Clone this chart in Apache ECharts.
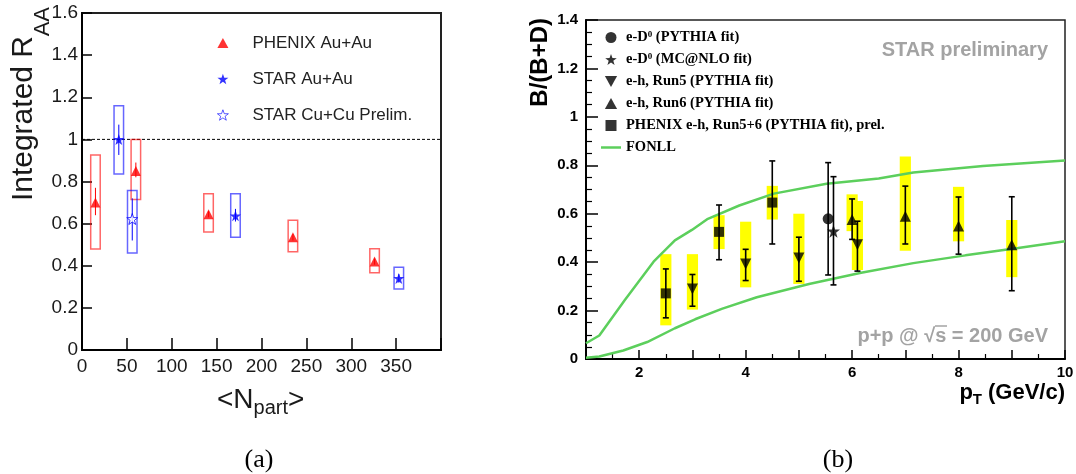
<!DOCTYPE html>
<html>
<head>
<meta charset="utf-8">
<script src="https://cdn.jsdelivr.net/npm/echarts@6/dist/echarts.min.js"></script>
<style>
html, body { margin: 0; padding: 0; background: #fff; }
#chart { width: 1076px; height: 474px; }
</style>
</head>
<body>
<div id="chart"></div>
<script>
// (a) integrated R_AA vs <N_part>
var phenixX = [15, 60, 141, 235, 326];
var phenixY = [0.70, 0.85, 0.645, 0.535, 0.42];
var phenixStatLo = [0.64, 0.82, 0.63, 0.52, 0.405];
var phenixStatHi = [0.77, 0.89, 0.66, 0.55, 0.435];
var phenixSysLo = [0.48, 0.715, 0.56, 0.467, 0.367];
var phenixSysHi = [0.926, 1.0, 0.742, 0.616, 0.481];

var starAuX = [41, 171, 353];
var starAuY = [1.0, 0.637, 0.34];
var starAuStatLo = [0.926, 0.61, 0.32];
var starAuStatHi = [1.07, 0.67, 0.36];
var starAuSysLo = [0.836, 0.535, 0.29];
var starAuSysHi = [1.16, 0.742, 0.393];

var starCuX = [56];
var starCuY = [0.622];
var starCuStatLo = [0.52];
var starCuStatHi = [0.72];
var starCuSysLo = [0.46];
var starCuSysHi = [0.757];

var nPartTicks = [0, 50, 100, 150, 200, 250, 300, 350];

// (b) B/(B+D) vs pT
var phenixEhX = [2.5, 3.5, 4.5];
var phenixEhY = [0.271, 0.525, 0.646];
var phenixEhStatLo = [0.17, 0.41, 0.475];
var phenixEhStatHi = [0.372, 0.636, 0.818];
var phenixEhSysLo = [0.139, 0.454, 0.576];
var phenixEhSysHi = [0.433, 0.594, 0.715];

var run5X = [3, 4, 5, 6.1];
var run5Y = [0.289, 0.392, 0.417, 0.472];
var run5StatLo = [0.218, 0.324, 0.321, 0.363];
var run5StatHi = [0.349, 0.453, 0.503, 0.569];
var run5SysLo = [0.204, 0.296, 0.31, 0.368];
var run5SysHi = [0.433, 0.567, 0.6, 0.653];

var run6X = [6, 7, 8, 9];
var run6Y = [0.576, 0.59, 0.549, 0.472];
var run6StatLo = [0.494, 0.475, 0.433, 0.282];
var run6StatHi = [0.661, 0.714, 0.669, 0.67];
var run6SysLo = [0.528, 0.447, 0.486, 0.338];
var run6SysHi = [0.68, 0.836, 0.711, 0.574];

var eD0PythiaX = [5.55];
var eD0PythiaY = [0.579];
var eD0PythiaLo = [0.347];
var eD0PythiaHi = [0.811];

var eD0McX = [5.65];
var eD0McY = [0.528];
var eD0McLo = [0.306];
var eD0McHi = [0.753];

var fonllUpX = [1, 1.25, 1.73, 2.27, 2.67, 2.99, 3.29, 3.88, 4.53, 5.52, 6.5, 7.15, 8.46, 10];
var fonllUpY = [0.065, 0.097, 0.244, 0.402, 0.49, 0.533, 0.579, 0.634, 0.683, 0.724, 0.745, 0.77, 0.797, 0.82];
var fonllLoX = [1, 1.25, 1.7, 2.15, 2.67, 3.05, 3.55, 4.21, 5.19, 6.17, 7.15, 8.13, 9.12, 10];
var fonllLoY = [0.005, 0.01, 0.035, 0.07, 0.127, 0.164, 0.207, 0.255, 0.31, 0.356, 0.396, 0.428, 0.458, 0.486];

var starPath = 'path://M0,-10L2.35,-3.24L9.51,-3.09L3.8,1.24L5.88,8.09L0,4L-5.88,8.09L-3.8,1.24L-9.51,-3.09L-2.35,-3.24Z';
var downTri = 'path://M0,0L10,0L5,9Z';
var upTri = 'path://M5,0L10,9L0,9Z';
var square = 'path://M0,0H10V10H0Z';
var lineIcon = 'path://M0,0H20V2.5H0Z';
var sans = 'Liberation Sans, Arial, sans-serif';
var serif = 'Liberation Serif, Times New Roman, serif';

function pts(xs, ys) {
  return xs.map(function (x, i) { return [x, ys[i]]; });
}
function ranges(xs, lo, hi) {
  return xs.map(function (x, i) { return [x, lo[i], hi[i]]; });
}

function boxItem(halfW, fill, stroke) {
  return function (params, api) {
    var x = api.value(0);
    var p1 = api.coord([x - halfW, api.value(2)]);
    var p2 = api.coord([x + halfW, api.value(1)]);
    return {
      type: 'rect',
      shape: { x: p1[0], y: p1[1], width: p2[0] - p1[0], height: p2[1] - p1[1] },
      style: { fill: fill, stroke: stroke, lineWidth: stroke ? 1.5 : 0 }
    };
  };
}

function errItem(cap, color, lw) {
  return function (params, api) {
    var x = api.value(0);
    var a = api.coord([x, api.value(1)]);
    var b = api.coord([x, api.value(2)]);
    var st = { stroke: color, lineWidth: lw };
    var kids = [{ type: 'line', shape: { x1: a[0], y1: a[1], x2: b[0], y2: b[1] }, style: st }];
    if (cap) {
      kids.push({ type: 'line', shape: { x1: a[0] - cap, y1: a[1], x2: a[0] + cap, y2: a[1] }, style: st });
      kids.push({ type: 'line', shape: { x1: b[0] - cap, y1: b[1], x2: b[0] + cap, y2: b[1] }, style: st });
    }
    return { type: 'group', children: kids };
  };
}

function custom(grid, render, data, z) {
  return {
    type: 'custom', xAxisIndex: grid, yAxisIndex: grid, renderItem: render,
    data: data, encode: { x: 0, y: [1, 2] }, silent: true, z: z
  };
}

var chart = echarts.init(document.getElementById('chart'), null, { renderer: 'canvas' });

var option = {
  animation: false,
  backgroundColor: '#fff',
  textStyle: { fontFamily: sans },
  grid: [
    { left: 82, top: 13, width: 359, height: 337, show: true, borderColor: '#222', borderWidth: 2, outerBoundsMode: 'none' },
    { left: 586, top: 20, width: 479, height: 339, show: true, borderColor: '#222', borderWidth: 1.5, outerBoundsMode: 'none' }
  ],
  xAxis: [
    {
      gridIndex: 0, type: 'value', min: 0, max: 400, interval: 50,
      axisLine: { show: true, lineStyle: { color: '#000', width: 2 } },
      axisTick: { show: true, inside: true, length: 12, lineStyle: { color: '#000', width: 1.5 } },
      axisLabel: {
        fontFamily: sans, fontSize: 19, color: '#1a1a1a', margin: 7,
        formatter: function (v) { return nPartTicks.indexOf(v) >= 0 ? String(v) : ''; }
      },
      splitLine: { show: false }
    },
    {
      gridIndex: 1, type: 'value', min: 1, max: 10, interval: 1,
      axisLine: { show: true, lineStyle: { color: '#000', width: 2 } },
      axisTick: { show: true, inside: true, length: 9, lineStyle: { color: '#000', width: 1.5 } },
      minorTick: { show: true, splitNumber: 2, length: 5, lineStyle: { color: '#000', width: 1.2 } },
      axisLabel: {
        fontFamily: sans, fontSize: 15, fontWeight: 'bold', color: '#000', margin: 6,
        formatter: function (v) { return v % 2 === 0 ? String(v) : ''; }
      },
      splitLine: { show: false }
    }
  ],
  yAxis: [
    {
      gridIndex: 0, type: 'value', min: 0, max: 1.6, interval: 0.2,
      axisLine: { show: true, lineStyle: { color: '#000', width: 2 } },
      axisTick: { show: true, inside: true, length: 10, lineStyle: { color: '#000', width: 1.5 } },
      axisLabel: { fontFamily: sans, fontSize: 19, color: '#1a1a1a', margin: 4 },
      splitLine: { show: false }
    },
    {
      gridIndex: 1, type: 'value', min: 0, max: 1.4, interval: 0.2,
      axisLine: { show: true, lineStyle: { color: '#000', width: 2 } },
      axisTick: { show: true, inside: true, length: 12, lineStyle: { color: '#000', width: 1.5 } },
      minorTick: { show: true, splitNumber: 4, length: 6, lineStyle: { color: '#000', width: 1.2 } },
      axisLabel: { fontFamily: sans, fontSize: 15, fontWeight: 'bold', color: '#000', margin: 8 },
      splitLine: { show: false }
    }
  ],
  legend: [
    {
      data: [
        { name: 'PHENIX Au+Au', icon: upTri },
        { name: 'STAR Au+Au', icon: starPath },
        { name: 'STAR Cu+Cu Prelim.', icon: starPath, itemStyle: { borderWidth: 0.8 } }
      ],
      orient: 'vertical', left: 212, top: 29, itemWidth: 11, itemHeight: 11, itemGap: 18,
      selectedMode: false, symbolKeepAspect: true,
      textStyle: { fontFamily: sans, fontSize: 17, color: '#222', lineHeight: 18, padding: [0, 0, 0, 19] }
    },
    {
      data: [
        { name: 'e-D0 (PYTHIA fit)', icon: 'circle' },
        { name: 'e-D0 (MC@NLO fit)', icon: starPath },
        { name: 'e-h, Run5 (PYTHIA fit)', icon: downTri },
        { name: 'e-h, Run6 (PYTHIA fit)', icon: upTri },
        { name: 'PHENIX e-h, Run5+6 (PYTHIA fit), prel.', icon: square },
        { name: 'FONLL', icon: lineIcon }
      ],
      orient: 'vertical', left: 596, top: 25, itemWidth: 20, itemHeight: 11, itemGap: 7,
      selectedMode: false, symbolKeepAspect: true,
      formatter: function (name) {
        return name.indexOf('e-D0') === 0 ? 'e-D{s|0}' + name.slice(4) : name;
      },
      textStyle: {
        fontFamily: serif, fontWeight: 'bold', fontSize: 14.5, color: '#000', lineHeight: 15,
        rich: { s: { fontFamily: serif, fontWeight: 'bold', fontSize: 9, color: '#000', verticalAlign: 'top', lineHeight: 9 } }
      }
    }
  ],
  graphic: [
    { type: 'text', x: 24, y: 36, rotation: Math.PI / 2,
      style: { text: 'Integrated R', font: '30px ' + sans, fill: '#1a1a1a', align: 'right', verticalAlign: 'middle' } },
    { type: 'text', x: 43, y: 7, rotation: Math.PI / 2,
      style: { text: 'AA', font: '22px ' + sans, fill: '#1a1a1a', align: 'right', verticalAlign: 'middle' } },
    { type: 'text', x: 217, y: 400,
      style: { text: '<N', font: '28px ' + sans, fill: '#1a1a1a', align: 'left', verticalAlign: 'middle' } },
    { type: 'text', x: 253.6, y: 408,
      style: { text: 'part', font: '20px ' + sans, fill: '#1a1a1a', align: 'left', verticalAlign: 'middle' } },
    { type: 'text', x: 288, y: 400,
      style: { text: '>', font: '28px ' + sans, fill: '#1a1a1a', align: 'left', verticalAlign: 'middle' } },
    { type: 'text', x: 259, y: 460,
      style: { text: '(a)', font: '26px ' + serif, fill: '#000', align: 'center', verticalAlign: 'middle' } },

    { type: 'text', x: 540, y: 18, rotation: Math.PI / 2,
      style: { text: 'B/(B+D)', font: 'bold 24px ' + sans, fill: '#000', align: 'right', verticalAlign: 'middle' } },
    { type: 'text', x: 1065, y: 393,
      style: { text: ' (GeV/c)', font: 'bold 22px ' + sans, fill: '#000', align: 'right', verticalAlign: 'middle' } },
    { type: 'text', x: 982, y: 400,
      style: { text: 'T', font: 'bold 15px ' + sans, fill: '#000', align: 'right', verticalAlign: 'middle' } },
    { type: 'text', x: 973, y: 393,
      style: { text: 'p', font: 'bold 22px ' + sans, fill: '#000', align: 'right', verticalAlign: 'middle' } },
    { type: 'text', x: 1048, y: 50,
      style: { text: 'STAR preliminary', font: 'bold 20px ' + sans, fill: '#a3a3a3', align: 'right', verticalAlign: 'middle' } },
    { type: 'text', x: 1048, y: 336,
      style: { text: 'p+p @ √s = 200 GeV', font: 'bold 20px ' + sans, fill: '#a3a3a3', align: 'right', verticalAlign: 'middle' } },
    { type: 'line', shape: { x1: 935, y1: 326, x2: 947, y2: 326 }, style: { stroke: '#a3a3a3', lineWidth: 1.5 } },
    { type: 'text', x: 838, y: 460,
      style: { text: '(b)', font: '26px ' + serif, fill: '#000', align: 'center', verticalAlign: 'middle' } }
  ],
  series: [
    // ---- panel (a)
    {
      type: 'line', xAxisIndex: 0, yAxisIndex: 0, data: [[0, 1], [400, 1]], symbol: 'none', silent: true, z: 1,
      lineStyle: { color: '#000', width: 1, type: [3, 2] }
    },
    custom(0, boxItem(5.3, 'none', 'rgba(255,0,0,0.6)'), ranges(phenixX, phenixSysLo, phenixSysHi), 2),
    custom(0, boxItem(5.3, 'none', 'rgba(0,0,255,0.6)'), ranges(starAuX, starAuSysLo, starAuSysHi), 2),
    custom(0, boxItem(5.3, 'none', 'rgba(0,0,255,0.6)'), ranges(starCuX, starCuSysLo, starCuSysHi), 2),
    custom(0, errItem(0, '#ff0000', 1), ranges(phenixX, phenixStatLo, phenixStatHi), 3),
    custom(0, errItem(0, '#0000ff', 1), ranges(starAuX, starAuStatLo, starAuStatHi), 3),
    custom(0, errItem(0, '#0000ff', 1), ranges(starCuX, starCuStatLo, starCuStatHi), 3),
    {
      name: 'PHENIX Au+Au', type: 'scatter', xAxisIndex: 0, yAxisIndex: 0, z: 4,
      symbol: 'triangle', symbolSize: 10, itemStyle: { color: '#ff0000' }, data: pts(phenixX, phenixY)
    },
    {
      name: 'STAR Au+Au', type: 'scatter', xAxisIndex: 0, yAxisIndex: 0, z: 4,
      symbol: starPath, symbolSize: 11, itemStyle: { color: '#0000ff' }, data: pts(starAuX, starAuY)
    },
    {
      name: 'STAR Cu+Cu Prelim.', type: 'scatter', xAxisIndex: 0, yAxisIndex: 0, z: 4,
      symbol: starPath, symbolSize: 11, itemStyle: { color: '#ffffff', borderColor: '#0000ff', borderWidth: 1 },
      data: pts(starCuX, starCuY)
    },

    // ---- panel (b)
    custom(1, boxItem(0.105, '#ffff00', null), ranges(phenixEhX, phenixEhSysLo, phenixEhSysHi), 1),
    custom(1, boxItem(0.105, '#ffff00', null), ranges(run5X, run5SysLo, run5SysHi), 1),
    custom(1, boxItem(0.105, '#ffff00', null), ranges(run6X, run6SysLo, run6SysHi), 1),
    {
      name: 'FONLL', type: 'line', xAxisIndex: 1, yAxisIndex: 1, symbol: 'none', z: 2,
      lineStyle: { color: '#5ccf5c', width: 2.5 }, itemStyle: { color: '#5ccf5c' }, data: pts(fonllUpX, fonllUpY)
    },
    {
      name: 'FONLL', type: 'line', xAxisIndex: 1, yAxisIndex: 1, symbol: 'none', z: 2,
      lineStyle: { color: '#5ccf5c', width: 2.5 }, itemStyle: { color: '#5ccf5c' }, data: pts(fonllLoX, fonllLoY)
    },
    custom(1, errItem(3, '#000', 1.6), ranges(phenixEhX, phenixEhStatLo, phenixEhStatHi), 3),
    custom(1, errItem(3, '#000', 1.6), ranges(run5X, run5StatLo, run5StatHi), 3),
    custom(1, errItem(3, '#000', 1.6), ranges(run6X, run6StatLo, run6StatHi), 3),
    custom(1, errItem(3, '#000', 1.6), ranges(eD0PythiaX, eD0PythiaLo, eD0PythiaHi), 3),
    custom(1, errItem(3, '#000', 1.6), ranges(eD0McX, eD0McLo, eD0McHi), 3),
    {
      name: 'e-D0 (PYTHIA fit)', type: 'scatter', xAxisIndex: 1, yAxisIndex: 1, z: 4,
      symbol: 'circle', symbolSize: 11, itemStyle: { color: '#000' }, data: pts(eD0PythiaX, eD0PythiaY)
    },
    {
      name: 'e-D0 (MC@NLO fit)', type: 'scatter', xAxisIndex: 1, yAxisIndex: 1, z: 4,
      symbol: starPath, symbolSize: 13, itemStyle: { color: '#000' }, data: pts(eD0McX, eD0McY)
    },
    {
      name: 'e-h, Run5 (PYTHIA fit)', type: 'scatter', xAxisIndex: 1, yAxisIndex: 1, z: 4,
      symbol: 'triangle', symbolRotate: 180, symbolSize: 11, itemStyle: { color: '#000' }, data: pts(run5X, run5Y)
    },
    {
      name: 'e-h, Run6 (PYTHIA fit)', type: 'scatter', xAxisIndex: 1, yAxisIndex: 1, z: 4,
      symbol: 'triangle', symbolSize: 11, itemStyle: { color: '#000' }, data: pts(run6X, run6Y)
    },
    {
      name: 'PHENIX e-h, Run5+6 (PYTHIA fit), prel.', type: 'scatter', xAxisIndex: 1, yAxisIndex: 1, z: 4,
      symbol: 'rect', symbolSize: 10, itemStyle: { color: '#000' }, data: pts(phenixEhX, phenixEhY)
    }
  ]
};

chart.setOption(option);
</script>
</body>
</html>
